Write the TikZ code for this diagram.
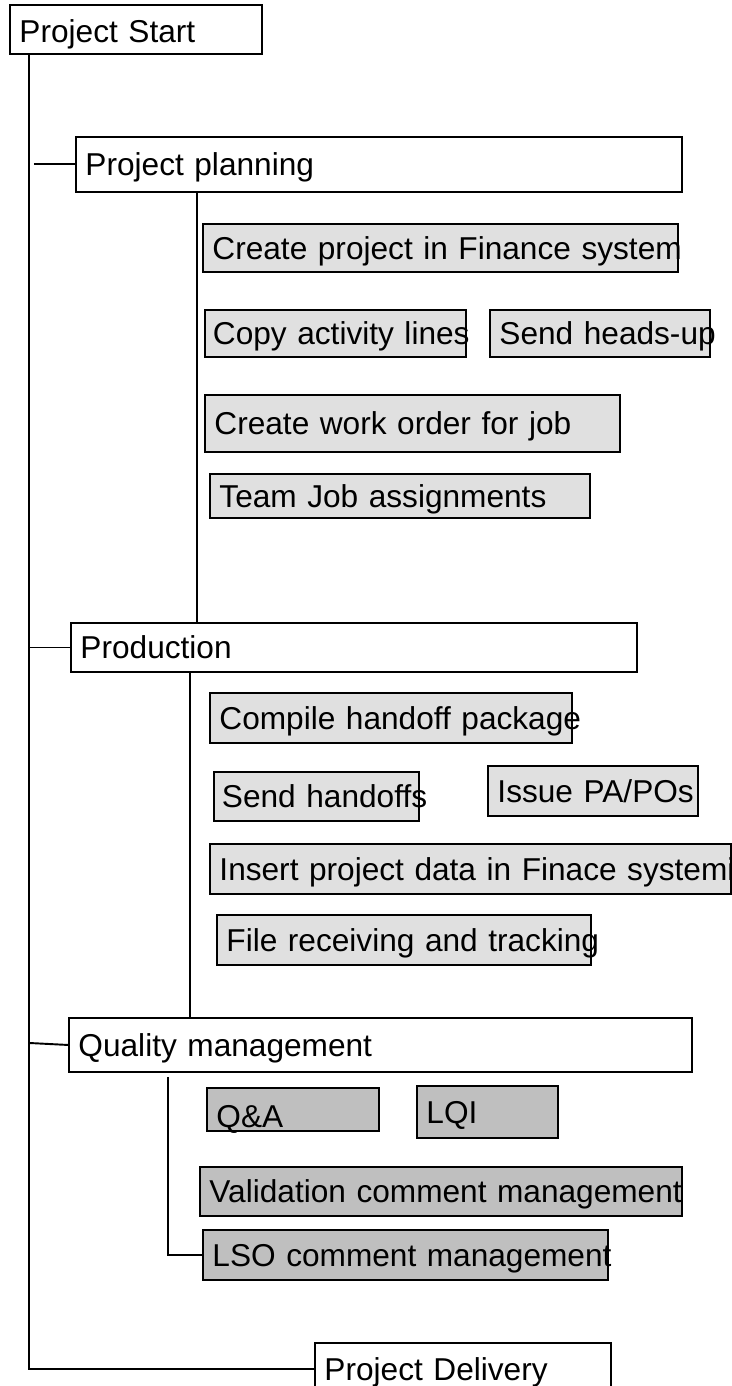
\documentclass[tikz,border=0pt]{standalone}
\usepackage{fontspec}
\setmainfont{Liberation Sans}
\usepackage{tikz}

\begin{document}
\begin{tikzpicture}[x=0.02cm, y=-0.02cm,
		box_style/.style={draw=black, line width=1.1pt, anchor=north west,
			inner xsep=0.19cm, inner ysep=0pt, font=\fontsize{18}{22}\selectfont,
			text height=12.9pt, text depth=0pt, align=left,
			execute at begin node={\hbox\bgroup}, execute at end node={\egroup}},
		dims/.style 2 args={text width=#1-0.38cm, minimum height=#2},
		phase_style/.style={box_style, fill=white},
		task_style/.style={box_style, fill=black!12},
		check_style/.style={box_style, fill=black!25},
		edge_style/.style={draw=black, line width=1.1pt}]

		\useasboundingbox (0,0) rectangle (732,1386);

		% phases
		\node[phase_style, dims={5.04cm}{0.98cm}, text height=15pt] (start) at (9,4) {Project Start};
		\node[phase_style, dims={12.12cm}{1.10cm}] (plan) at (75,136) {Project planning};
		\node[phase_style, dims={11.32cm}{0.98cm}] (prod) at (70,622) {Production};
		\node[phase_style, dims={12.46cm}{1.08cm}] (qual) at (68,1017) {Quality management};
		\node[phase_style, dims={5.92cm}{1.04cm}] (deliv) at (314,1342) {Project Delivery};

		% planning tasks
		\node[task_style, dims={9.50cm}{0.96cm}] (finsys) at (202,223) {Create project in Finance system};
		\node[task_style, dims={5.28cm}{0.94cm}, inner xsep=0.16cm] (copy) at (204,309) {Copy activity lines};
		\node[task_style, dims={4.40cm}{0.94cm}] (heads) at (489,309) {Send heads-up};
		\node[task_style, dims={8.30cm}{1.14cm}] (order) at (204,394) {Create work order for job};
		\node[task_style, dims={7.60cm}{0.88cm}] (team) at (209,473) {Team Job assignments};

		% production tasks
		\node[task_style, dims={7.24cm}{1.00cm}] (compile) at (209,692) {Compile handoff package};
		\node[task_style, dims={4.16cm}{0.98cm}, inner xsep=0.16cm] (sendoff) at (213,771) {Send handoffs};
		\node[task_style, dims={4.20cm}{1.00cm}] (issue) at (487,765) {Issue PA/POs};
		\node[task_style, dims={10.42cm}{1.00cm}] (insert) at (209,843) {Insert project data in Finace systemi};
		\node[task_style, dims={7.48cm}{1.00cm}] (filerec) at (216,914) {File receiving and tracking};

		% quality tasks
		\node[check_style, dims={3.44cm}{0.86cm}, text height=20pt] (qa) at (206,1087) {Q\&A};
		\node[check_style, dims={2.82cm}{1.04cm}] (lqi) at (416,1085) {LQI};
		\node[check_style, dims={9.64cm}{0.98cm}] (valid) at (199,1166) {Validation comment management};
		\node[check_style, dims={8.10cm}{1.00cm}] (lso) at (202,1229) {LSO comment management};

		\coordinate (trunk) at ([xshift=0.4cm]start.south west);
		\coordinate (planbus) at ([xshift=2.44cm]plan.south west);
		\coordinate (prodbus) at ([xshift=2.4cm]prod.south west);
		\coordinate (qualbus) at ([xshift=2cm,yshift=-0.08cm]qual.south west);

		\draw[edge_style] (trunk) |- (deliv.west);
		\draw[edge_style] (trunk |- plan.west) ++(5,0) -- (plan.west);
		\draw[edge_style] (trunk |- prod.west) -- (prod.west);
		\draw[edge_style] (trunk |- qual.west) ++(0,-2) -- (qual.west);
		\draw[edge_style] (planbus) -- (planbus |- prod.north);
		\draw[edge_style] (prodbus) -- (prodbus |- qual.north);
		\draw[edge_style] (qualbus) |- (lso.west);
\end{tikzpicture}
\end{document}
